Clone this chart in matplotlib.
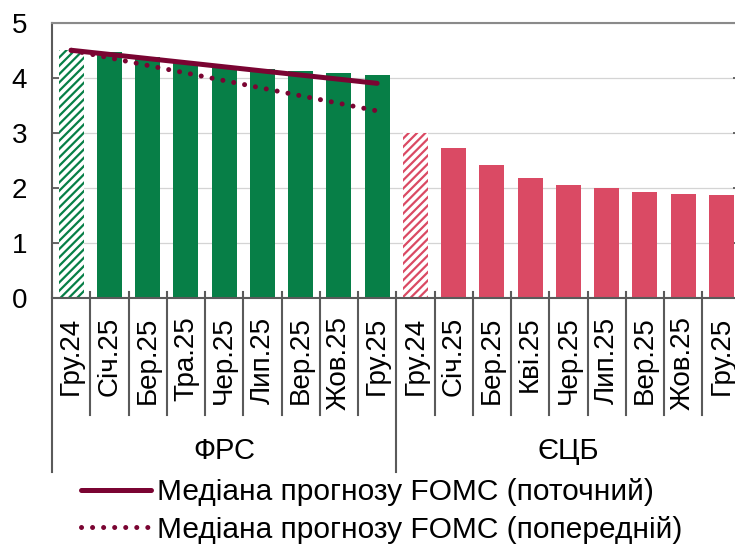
import matplotlib
matplotlib.use("Agg")
import matplotlib.pyplot as plt
from matplotlib import transforms
from matplotlib.lines import Line2D
import numpy as np

# categories
cats_frs = ["Гру.24", "Січ.25", "Бер.25", "Тра.25", "Чер.25", "Лип.25", "Вер.25", "Жов.25", "Гру.25"]
cats_ecb = ["Гру.24", "Січ.25", "Бер.25", "Кві.25", "Чер.25", "Лип.25", "Вер.25", "Жов.25", "Гру.25"]
groups = ["ФРС", "ЄЦБ"]

# policy rate, %
frs_vals = [4.50, 4.46, 4.38, 4.28, 4.20, 4.16, 4.12, 4.09, 4.05]
ecb_vals = [3.00, 2.72, 2.41, 2.19, 2.05, 2.00, 1.92, 1.90, 1.87]

# FOMC median, from Гру.24 to Гру.25
fomc_pts = ["Гру.24", "Гру.25"]
fomc_cur = [4.5, 3.9]
fomc_prev = [4.5, 3.4]
leg_labels = ["Медіана прогнозу FOMC (поточний)", "Медіана прогнозу FOMC (попередній)"]

W, H = 735., 546.

#_____________________________________________________________________________
def fx(px):
    return px / W

def fy(py):
    return 1. - py / H

#_____________________________________________________________________________
def main():

    plt.rcParams["font.family"] = ["Liberation Sans", "DejaVu Sans"]
    plt.rcParams["hatch.linewidth"] = 1.6

    green = "#077f47"
    red = "#da4a64"
    maroon = "#7a0432"
    gray = "#5a5a5a"

    fig = plt.figure(figsize=(W/100, H/100), dpi=100)
    ax = fig.add_axes([fx(52), fy(298.3), (740.5-52)/W, (298.3-22.7)/H])

    n1 = len(cats_frs)
    x_frs = np.arange(n1)
    x_ecb = np.arange(n1, n1 + len(cats_ecb))
    bw = 0.66

    # actual rate hatched, forward curve filled
    ax.bar(x_frs[0], frs_vals[0], width=bw, color="white", edgecolor=green, hatch="////", lw=0)
    ax.bar(x_frs[1:], frs_vals[1:], width=bw, color=green, lw=0)
    ax.bar(x_ecb[0], ecb_vals[0], width=bw, color="white", edgecolor=red, hatch="////", lw=0)
    ax.bar(x_ecb[1:], ecb_vals[1:], width=bw, color=red, lw=0)

    xl = [cats_frs.index(c) for c in fomc_pts]
    lp, = ax.plot(xl, fomc_prev, color=maroon, lw=3.6, linestyle=(0, (0.01, 2.2)),
        dash_capstyle="round", zorder=3)
    lc, = ax.plot(xl, fomc_cur, color=maroon, lw=3.6, solid_capstyle="round", zorder=4)

    ax.set_xlim(-0.5, n1 + len(cats_ecb) - 0.5)
    ax.set_ylim(0, 5)
    ax.set_yticks(range(6))
    ax.set_xticks([])

    ax.set_axisbelow(True)
    ax.grid(True, axis="y", color="#d4d4d4", lw=0.9)

    for s in ["left", "bottom", "top", "right"]:
        ax.spines[s].set_color(gray)
        ax.spines[s].set_linewidth(1.5)
    ax.spines["top"].set_color("#8a8a8a")

    ax.tick_params(axis="y", direction="in", length=5.5, width=1.3, color=gray,
        labelsize=20, pad=18, right=True)

    # category labels and separators below the axis
    tr = transforms.blended_transform_factory(ax.transData, fig.transFigure)
    xall = list(x_frs) + list(x_ecb)
    call = cats_frs + cats_ecb
    for xi, c in zip(xall, call):
        fig.text(xi, fy(316.5), c, transform=tr, rotation=90, ha="center", va="top",
            fontsize=20, color="black")

    for b in np.arange(-0.5, len(xall), 1.):
        ybot = 472 if b in (-0.5, n1 - 0.5, len(xall) - 0.5) else 415
        fig.add_artist(Line2D([b, b], [fy(292), fy(ybot)], transform=tr, color=gray,
            lw=1.5, clip_on=False))

    gx = [(n1 - 1) / 2., n1 + (len(cats_ecb) - 1) / 2.]
    for g, xg in zip(groups, gx):
        fig.text(xg, fy(451), g, transform=tr, ha="center", va="center", fontsize=21)

    fig.legend([lc, lp], leg_labels, loc="upper left", bbox_to_anchor=(fx(81), fy(478)),
        frameon=False, fontsize=21.5, borderpad=0, borderaxespad=0, handlelength=2.35,
        handletextpad=0.2, labelspacing=0.32)

    fig.savefig("out.png", dpi=100)
    plt.close()

#main

#_____________________________________________________________________________
if __name__ == "__main__":

    main()
